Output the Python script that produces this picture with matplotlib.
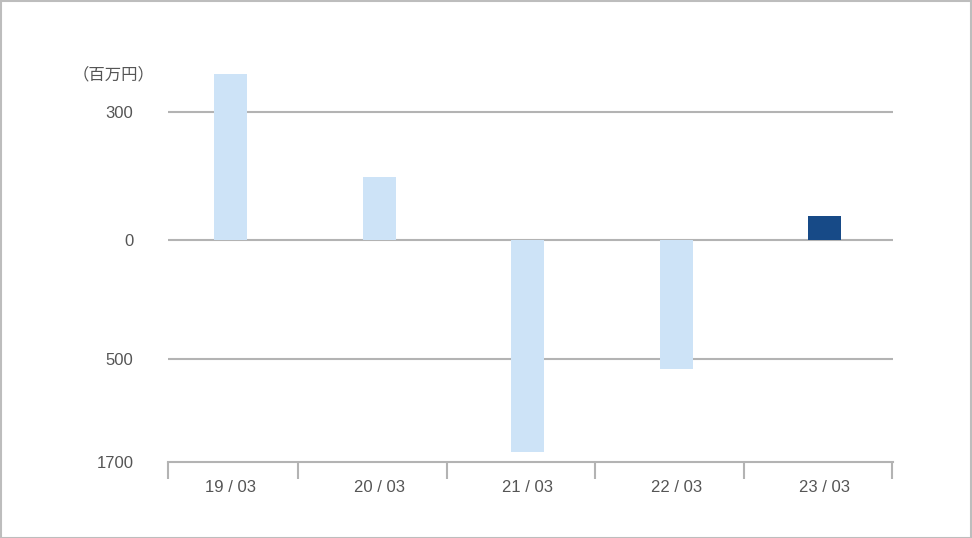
import numpy as np
import matplotlib
matplotlib.use("Agg")
import matplotlib.pyplot as plt
from matplotlib.patches import Rectangle

categories = ["19 / 03", "20 / 03", "21 / 03", "22 / 03", "23 / 03"]
values = [390, 148, -1583, -617, 56]
bar_colors = ["#cde3f7", "#cde3f7", "#cde3f7", "#cde3f7", "#174a87"]
ytick_values = [300, 0, -500, -1700]
ytick_labels = ["300", "0", "500", "1700"]
unit_label = "（百万円）"

# piecewise-linear (broken) value axis
bp_vals = np.array([-1700.0, -500.0, 0.0, 300.0, 1000.0])
bp_pos = -np.array([462.0, 359.0, 240.0, 112.0, 112.0 - 700 * 128 / 300])

def fwd(v):
    return np.interp(v, bp_vals, bp_pos)

def inv(p):
    return np.interp(p, bp_pos, bp_vals)

plt.rcParams['font.family'] = ['Liberation Sans', 'Noto Sans CJK JP', 'DejaVu Sans']

W, H = 972, 538
fig = plt.figure(figsize=(W / 100, H / 100), dpi=100)
fig.patches.append(Rectangle((0.5 / W, 0.5 / H), 1 - 1.5 / W, 1 - 1.5 / H,
                             transform=fig.transFigure, fill=False,
                             edgecolor="#bdbdbd", linewidth=1.5))

top_px, bot_px = 60, 462
left_px, right_px = 168, 893
step_px = 148.6
first_center_px = 230.5
ax = fig.add_axes([left_px / W, (H - bot_px) / H, (right_px - left_px) / W, (bot_px - top_px) / H])
ax.set_yscale('function', functions=(fwd, inv))
ax.set_ylim(-1700, inv(-top_px))
xl = (left_px - first_center_px) / step_px
xr = (right_px - first_center_px) / step_px
ax.set_xlim(xl, xr)

x = np.arange(len(categories))
for yv in ytick_values[:-1]:
    ax.axhline(yv, color="#b3b3b3", linewidth=1.5, zorder=1)
ax.bar(x, values, width=0.222, color=bar_colors, zorder=2)

for s in ["top", "right", "left"]:
    ax.spines[s].set_visible(False)
ax.spines["bottom"].set_color("#b3b3b3")
ax.spines["bottom"].set_linewidth(1.5)

ax.set_yticks(ytick_values)
ax.set_yticks([], minor=True)
ax.set_yticklabels(ytick_labels)
ax.tick_params(axis="y", length=0, pad=25, labelsize=12, labelcolor="#555555")

ax.set_xticks(x)
ax.set_xticklabels(categories)
bounds = [xl + 0.001] + list(x + 67.5 / step_px)
ax.set_xticks(bounds, minor=True)
ax.tick_params(axis="x", which="major", length=0, pad=13, labelsize=12, labelcolor="#555555")
ax.tick_params(axis="x", which="minor", length=12, width=1.5, color="#b3b3b3", direction="out")

fig.text(154 / W, 1 - 75 / H, unit_label, ha="right", va="center", fontsize=11.8,
         color="#555555", family=['Noto Sans CJK JP', 'DejaVu Sans'])

fig.savefig("out.png", dpi=100)
